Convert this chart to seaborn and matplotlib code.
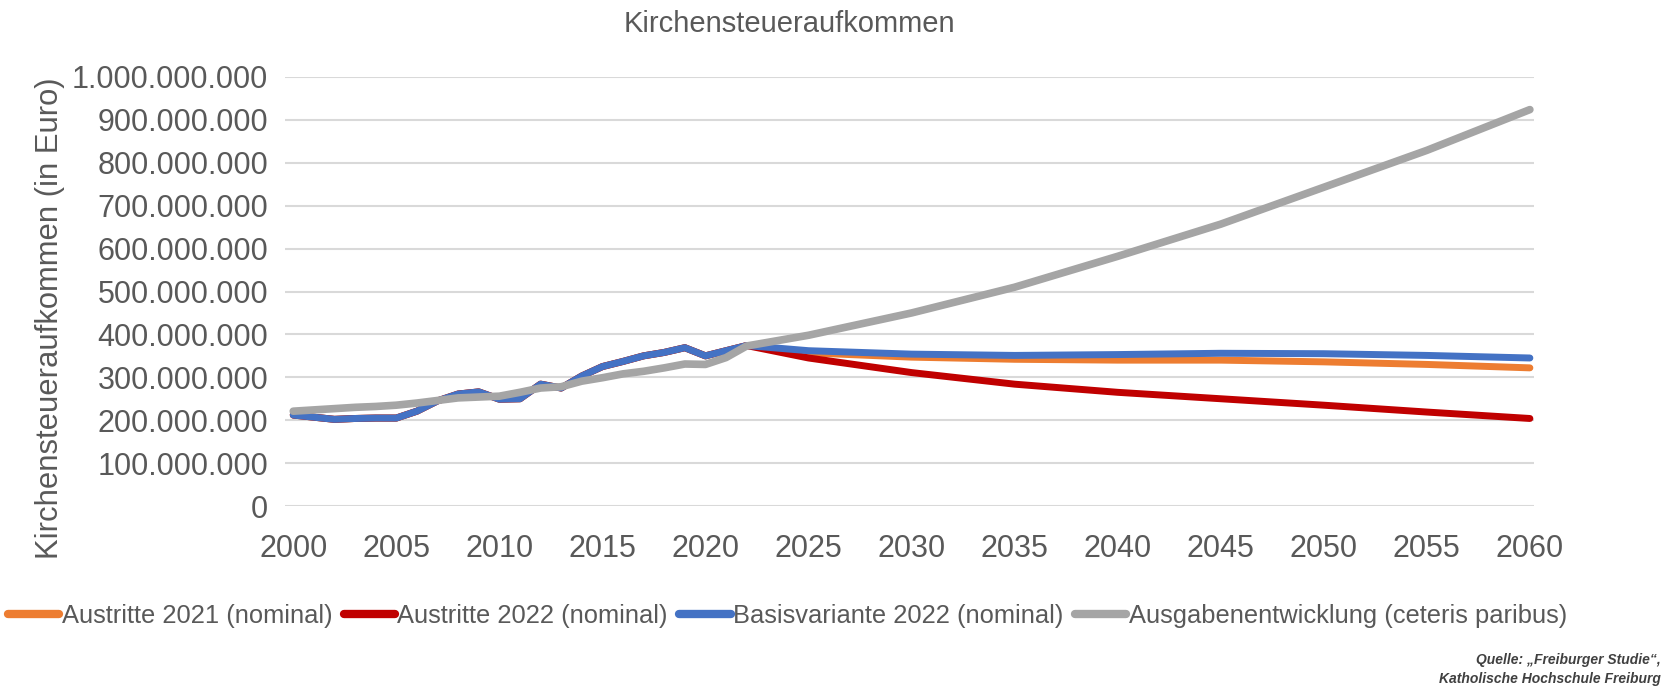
import numpy as np
import pandas as pd
import seaborn as sns
import matplotlib.pyplot as plt
from matplotlib.ticker import FuncFormatter, MultipleLocator

# Data (Mio. Euro)
hist_years = list(range(2000, 2023))
hist_kist = [212, 207, 202, 204, 205, 205, 221, 245, 261, 266, 249, 250,
             284, 275, 303, 325, 337, 350, 358, 369, 350, 362, 374]
hist_ausgaben = [221, 224, 227, 230, 232, 235, 240, 246, 252, 254, 256, 265,
                 275, 278, 291, 299, 308, 314, 322, 331, 330, 346, 373]

future_years = [2025, 2030, 2035, 2040, 2045, 2050, 2055, 2060]
austritte_2021 = [357, 347, 342, 340, 340, 336, 330, 322]
austritte_2022 = [345, 311, 284, 265, 250, 235, 219, 204]
basis_2022 = [362, 354, 351, 353, 356, 355, 351, 345]
ausgaben = [398, 450, 510, 582, 657, 743, 829, 924]

series_names = ["Austritte 2021 (nominal)", "Austritte 2022 (nominal)",
                "Basisvariante 2022 (nominal)", "Ausgabenentwicklung (ceteris paribus)"]
colors = ["#ED7D31", "#C00000", "#4472C4", "#A5A5A5"]

rows = []
for name, fut in zip(series_names[:3], [austritte_2021, austritte_2022, basis_2022]):
    for y, v in zip(hist_years + future_years, hist_kist + fut):
        rows.append((name, y, v * 1e6))
for y, v in zip(hist_years + future_years, hist_ausgaben + ausgaben):
    rows.append((series_names[3], y, v * 1e6))
df = pd.DataFrame(rows, columns=["Reihe", "Jahr", "Wert"])

sns.set_style("white")
plt.rcParams["font.family"] = ["Liberation Sans", "DejaVu Sans"]
text_col = "#595959"

fig = plt.figure(figsize=(16.7, 6.89), dpi=100)
ax = fig.add_axes([285 / 1670, 1 - 506 / 689, (1534 - 285) / 1670, (506 - 77) / 689])

sns.lineplot(data=df, x="Jahr", y="Wert", hue="Reihe", hue_order=series_names,
             palette=colors, linewidth=5, ax=ax, legend=False)
for line in ax.lines:
    line.set_solid_capstyle("round")
    line.set_solid_joinstyle("round")
ax.lines[3].set_linewidth(5.5)

ax.set_xlim(1999.6, 2060.2)
ax.set_ylim(0, 1e9)
ax.xaxis.set_major_locator(MultipleLocator(5))
ax.yaxis.set_major_locator(MultipleLocator(1e8))
ax.yaxis.set_major_formatter(FuncFormatter(lambda v, p: f"{int(round(v)):,}".replace(",", ".")))
ax.grid(axis="y", color="#D9D9D9", linewidth=1.5)
ax.set_axisbelow(True)
for s in ax.spines.values():
    s.set_visible(False)
ax.tick_params(axis="both", length=0, labelsize=22, colors=text_col)
ax.tick_params(axis="y", pad=12)
ax.tick_params(axis="x", pad=20)
ax.set_xlabel("")
ax.set_ylabel("")

fig.text(789 / 1670, 1 - 24 / 689, "Kirchensteueraufkommen", ha="center", va="center",
         fontsize=21, color=text_col)
fig.text(50 / 1670, 1 - 318 / 689, "Kirchensteueraufkommen (in Euro)", rotation=90,
         ha="center", va="center", fontsize=22.3, color=text_col)

handles = [plt.Line2D([], [], color=c, linewidth=6, solid_capstyle="round") for c in colors]
fig.legend(handles, series_names, loc="center left", bbox_to_anchor=(8 / 1670, 1 - 616 / 689),
           ncol=4, frameon=False, fontsize=18.4, handlelength=2.0, handletextpad=0.1,
           columnspacing=0.45, labelcolor=text_col, borderaxespad=0, borderpad=0)

fig.text(1661 / 1670, 1 - 660 / 689, "Quelle: \u201eFreiburger Studie\u201c,", ha="right", va="center",
         fontsize=10, style="italic", fontweight="bold", color="#404040")
fig.text(1661 / 1670, 1 - 679 / 689, "Katholische Hochschule Freiburg", ha="right", va="center",
         fontsize=10, style="italic", fontweight="bold", color="#404040")

fig.savefig("out.png", dpi=100)
